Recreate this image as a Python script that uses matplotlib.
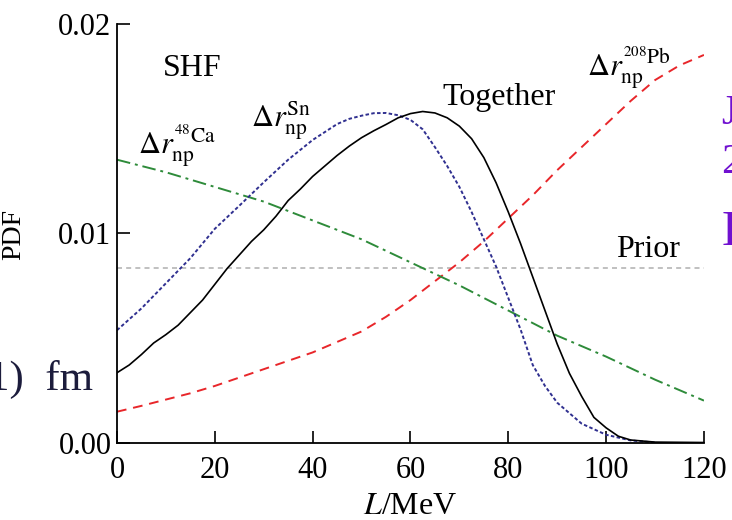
import matplotlib
matplotlib.use("Agg")
import matplotlib.pyplot as plt

plt.rcParams['font.family'] = ['Liberation Serif', 'DejaVu Serif']
plt.rcParams['mathtext.fontset'] = 'stix'

# values (L in MeV, PDF)
L_together = [0, 2.5, 5, 7.5, 10, 12.5, 15, 17.5, 20, 22.5, 25, 27.5, 30, 32.5, 35, 37.5, 40,
              42.5, 45, 47.5, 50, 52.5, 55, 57.5, 60, 62.5, 65, 67.5, 70, 72.5, 75, 77.5, 80,
              82.5, 85, 87.5, 90, 92.5, 95, 97.5, 100, 102.5, 105, 110, 120]
pdf_together = [0.00333, 0.0037, 0.0042, 0.00475, 0.00515, 0.0056, 0.0062, 0.0068, 0.00755,
                0.0083, 0.00895, 0.0096, 0.01015, 0.0108, 0.01155, 0.0121, 0.0127, 0.0132,
                0.0137, 0.01415, 0.01455, 0.01488, 0.01518, 0.0155, 0.0157, 0.0158, 0.01573,
                0.0155, 0.0151, 0.0145, 0.0136, 0.0124, 0.0110, 0.0095, 0.0079, 0.0063, 0.0047,
                0.0033, 0.0022, 0.0012, 0.0007, 0.0003, 0.00012, 0.00002, 0.0]

L_sn = [0, 5, 10, 15, 20, 25, 30, 35, 40, 45, 47.5, 50, 52.5, 55, 57.5, 60, 62.5, 65, 67.5,
        70, 72.5, 75, 77.5, 80, 82.5, 85, 87.5, 90, 95, 100, 105, 110]
pdf_sn = [0.00536, 0.0064, 0.0076, 0.0088, 0.0102, 0.0113, 0.01242, 0.0135, 0.01444, 0.0152,
          0.01545, 0.0156, 0.01572, 0.01573, 0.01562, 0.0154, 0.01495, 0.0141, 0.0132, 0.0122,
          0.0110, 0.0097, 0.0084, 0.0069, 0.0054, 0.0037, 0.0027, 0.0019, 0.0009, 0.00037,
          0.0001, 0.0]

L_ca = [0, 10, 20, 30, 40, 50, 60, 70, 80, 90, 100, 110, 120]
pdf_ca = [0.0135, 0.0129, 0.0122, 0.0115, 0.0106, 0.0097, 0.0086, 0.0075, 0.0063, 0.0051,
          0.0041, 0.0030, 0.0020]

L_pb = [0, 5, 10, 15, 20, 25, 30, 35, 40, 45, 50, 55, 60, 65, 70, 75, 80, 85, 90, 95, 100,
        105, 110, 115, 120]
pdf_pb = [0.00147, 0.00175, 0.00205, 0.00235, 0.0027, 0.0031, 0.0035, 0.0039, 0.0043, 0.0048,
          0.0053, 0.0060, 0.0068, 0.0077, 0.0086, 0.0096, 0.0107, 0.0118, 0.0130, 0.0141,
          0.0152, 0.0163, 0.0173, 0.0180, 0.0185]

L_prior = [0, 120]
pdf_prior = [1 / 120, 1 / 120]

xticks = [0, 20, 40, 60, 80, 100, 120]
yticks = [0.0, 0.01, 0.02]
ytick_labels = ['0.00', '0.01', '0.02']

fig = plt.figure(figsize=(7.32, 5.2), dpi=100)
ax = fig.add_axes([0.1598, 0.149, 0.8019, 0.8058])

ax.plot(L_prior, pdf_prior, color='#b5b5b5', lw=1.2, linestyle=(0, (3, 2.5)))
ax.plot(L_pb, pdf_pb, color='#e8262a', lw=1.4, linestyle=(0, (5, 3.5)))
ax.plot(L_ca, pdf_ca, color='#2e8b3a', lw=1.4, linestyle=(0, (7, 2.5, 1.5, 2.5)))
ax.plot(L_sn, pdf_sn, color='#303090', lw=1.4, linestyle=(0, (1.8, 1.2)))
ax.plot(L_together, pdf_together, color='black', lw=1.2)

ax.set_xlim(0, 120)
ax.set_ylim(0, 0.02)
ax.set_xticks(xticks)
ax.set_yticks(yticks)
ax.set_yticklabels(ytick_labels)
ax.spines['top'].set_visible(False)
ax.spines['right'].set_visible(False)
for s in ['left', 'bottom']:
    ax.spines[s].set_linewidth(1.3)
ax.tick_params(direction='in', length=9, width=1.2, labelsize=22)
ax.tick_params(axis='x', pad=10)
ax.tick_params(axis='y', pad=4)

ax.set_xlabel(r'$L$/MeV', fontsize=23)
ax.xaxis.set_label_coords(0.5, -0.118)
ax.set_ylabel('PDF', fontsize=20)
ax.yaxis.set_label_coords(-0.155, 0.496)

ax.text(9.4, 0.01785, 'SHF', fontsize=23, va='center')
ax.text(4.3, 0.0138, r'$\Delta r_{\mathrm{np}}^{{}^{48}\mathrm{Ca}}$', fontsize=22, va='baseline')
ax.text(27.5, 0.0151, r'$\Delta r_{\mathrm{np}}^{\mathrm{Sn}}$', fontsize=22, va='baseline')
ax.text(66.5, 0.0161, 'Together', fontsize=23, va='baseline')
ax.text(96.0, 0.01752, r'$\Delta r_{\mathrm{np}}^{{}^{208}\mathrm{Pb}}$', fontsize=22, va='baseline')
ax.text(102.0, 0.00884, 'Prior', fontsize=23, va='baseline')

# bits of neighbouring page text cut into the picture
fig.text(-12 / 732, 1 - 390 / 520, '1)  fm', fontsize=31, color='#1c1c3c')
fig.text(721 / 732, 1 - 124 / 520, 'J', fontsize=30, color='#7010d0')
fig.text(721 / 732, 1 - 173 / 520, '2', fontsize=30, color='#7010d0')
fig.text(722 / 732, 1 - 245 / 520, 'D', fontsize=36, color='#7010d0')

fig.savefig('out.png', dpi=100)
